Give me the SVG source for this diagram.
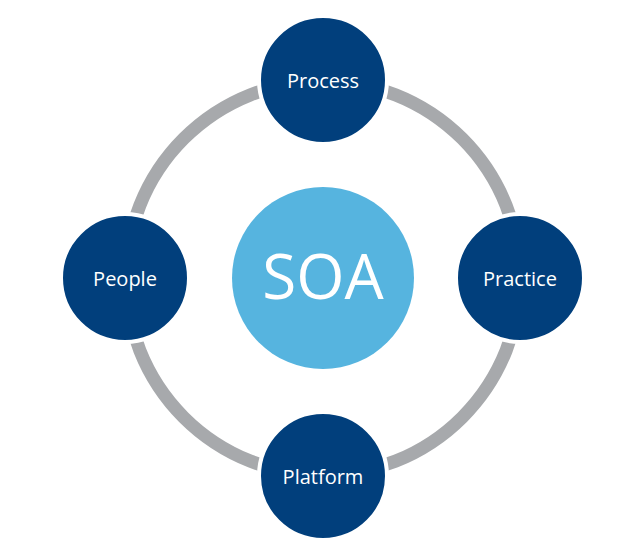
<svg xmlns="http://www.w3.org/2000/svg" width="644" height="558" viewBox="0 0 644 558">
<style>
.node circle{fill:#013F7C;stroke:#fff;stroke-width:4}
.node text{fill:#fff;font-family:"Open Sans","Liberation Sans",sans-serif;font-size:20px;text-anchor:middle}
.center circle{fill:#56B4DF}
.center text{fill:#fff;font-family:"Open Sans","Liberation Sans",sans-serif;font-size:62px;text-anchor:middle}
</style>
<rect width="644" height="558" fill="#fff"/>
<g id="connectors">
<circle cx="323" cy="278" r="197" fill="none" stroke="#A7A9AC" stroke-width="13"/>
</g>
<g id="soa" class="center"><circle cx="323" cy="278" r="91"/><text x="323" y="299">SOA</text></g>
<g id="process" class="node"><circle cx="323" cy="80" r="64"/><text x="323" y="88">Process</text></g>
<g id="practice" class="node"><circle cx="520" cy="278" r="64"/><text x="520" y="286">Practice</text></g>
<g id="platform" class="node"><circle cx="323" cy="476" r="64"/><text x="323" y="484">Platform</text></g>
<g id="people" class="node"><circle cx="125" cy="278" r="64"/><text x="125" y="286">People</text></g>
</svg>
